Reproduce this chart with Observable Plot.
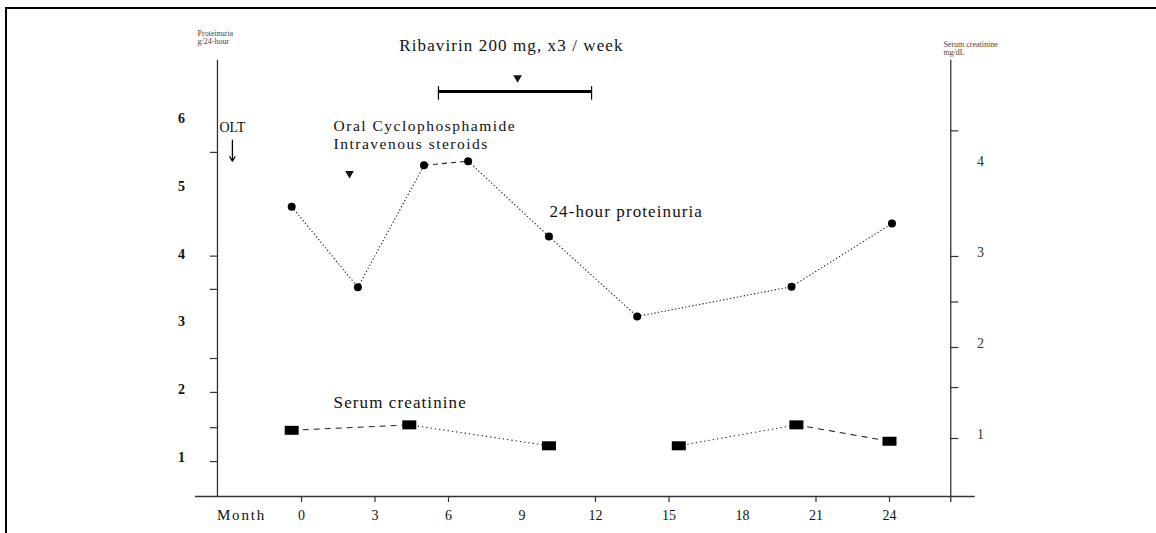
<!DOCTYPE html>
<html><head><meta charset="utf-8">
<script src="https://cdn.jsdelivr.net/npm/d3@7"></script>
<script src="https://cdn.jsdelivr.net/npm/@observablehq/plot@0.6"></script>
<style>
body{margin:0;background:#fff;}
#wrap{position:relative;width:1156px;height:533px;overflow:hidden;background:#fff;}
#wrap svg{position:absolute;left:0;top:0;}
#frame{position:absolute;left:5px;top:7px;width:1200px;height:600px;border-top:2px solid #000;border-left:2px solid #000;pointer-events:none;}
.ann text{letter-spacing:1.1px;}
.ann3 text{letter-spacing:1.5px;}
.ann2 text{letter-spacing:1.8px;}
</style></head><body><div id="wrap"></div>
<script>
// ---- data ----
const protMonths = [-0.4, 2.3, 5.0, 6.8, 10.1, 13.7, 20.0, 24.1];
const protValues = [4.70, 3.51, 5.31, 5.37, 4.26, 3.08, 3.52, 4.45];   // g/24-hour (left axis)
const creatMonths = [-0.4, 4.4, 10.1, 15.4, 20.2, 24.0];
const creatValues = [1.09, 1.15, 0.92, 0.92, 1.15, 0.97];              // mg/dL (right axis)
const monthLabels = [0, 3, 6, 9, 12, 15, 18, 21, 24];
const monthTickMarks = [0, 3, 6, 12, 15, 21, 24];
const leftLabels = [1, 2, 3, 4, 5, 6];
const leftTickMarks = [0.94, 1.44, 1.96, 2.46, 3.48, 3.97, 5.50];
const rightLabels = [1, 2, 3, 4];
const rightTickMarks = [1.0, 1.56, 2.0, 2.5, 3.0, 4.38];

// right axis (creatinine) expressed in the left-axis units
const toLeft = d3.scaleLinear([1, 3], [1.28, 3.965]);

const prot = protMonths.map((m, i) => ({month: m, value: protValues[i]}));
const creat = creatMonths.map((m, i) => ({month: m, value: toLeft(creatValues[i])}));
const protSegs = d3.pairs(prot).map(([a, b], i) => ({x1: a.month, y1: a.value, x2: b.month, y2: b.value, i}));
const creatSegs = d3.pairs(creat).map(([a, b], i) => ({x1: a.month, y1: a.value, x2: b.month, y2: b.value, i}));

const LEFT_X = -3.43, RIGHT_X = 26.5, BASE_Y = 0.425;
const serif = "Liberation Serif, DejaVu Serif, serif";
const ink = "#111";

const wideRect = {
  draw(ctx) { const w = 7, h = 4.5; ctx.moveTo(-w, -h); ctx.lineTo(w, -h); ctx.lineTo(w, h); ctx.lineTo(-w, h); ctx.closePath(); }
};

const txt = (x, y, s, o = {}) => Plot.text([s], {x: () => x, y: () => y, text: d => d, fontFamily: serif, fill: ink, fontSize: 15.5, ...o});
const seg = (data, dash) => Plot.link(data, {x1: "x1", y1: "y1", x2: "x2", y2: "y2", stroke: "#222", strokeWidth: 1.1, strokeDasharray: dash});

const chart = Plot.plot({
  width: 1156, height: 533,
  marginTop: 0, marginRight: 0, marginBottom: 0, marginLeft: 0,
  x: {domain: [0, 24], range: [301, 889], axis: null},
  y: {domain: [1, 6], range: [457, 118], axis: null},
  style: {background: "transparent", fontFamily: serif},
  marks: [
    // axes frame
    Plot.ruleX([LEFT_X], {y1: BASE_Y, y2: 6.86, stroke: "#333", strokeWidth: 1.3}),
    Plot.ruleX([RIGHT_X], {y1: 0.336, y2: 6.86, stroke: "#333", strokeWidth: 1.3}),
    Plot.ruleY([BASE_Y], {x1: -4.33, x2: 27.5, stroke: "#333", strokeWidth: 1.3}),
    Plot.ruleX(monthTickMarks, {y1: BASE_Y, y2: 0.336, stroke: "#333", strokeWidth: 1.2}),
    Plot.text(monthLabels, {x: d => d, y: () => 0.145, text: d => String(d), fontFamily: serif, fontSize: 14, fill: ink}),
    txt(-2.45, 0.145, "Month", {fontSize: 15, className: "ann2"}),
    Plot.ruleY(leftTickMarks, {x1: LEFT_X, x2: -3.72, stroke: "#333", strokeWidth: 1.2}),
    Plot.text(leftLabels, {x: () => -4.9, y: d => d, text: d => String(d), fontFamily: serif, fontSize: 14, fontWeight: "bold", fill: ink}),
    Plot.ruleY(rightTickMarks.map(toLeft), {x1: RIGHT_X, x2: 26.83, stroke: "#333", strokeWidth: 1.2}),
    Plot.text(rightLabels, {x: () => 27.71, y: d => toLeft(d), dy: -4, text: d => String(d), fontFamily: serif, fontSize: 14, fill: "#333"}),
    // axis titles
    txt(-4.24, 7.25, "Proteinuria", {fontSize: 8, textAnchor: "start", fill: "#444"}),
    txt(-4.24, 7.13, "g/24-hour", {fontSize: 8, textAnchor: "start", fill: "#444"}),
    txt(26.2, 7.09, "Serum creatinine", {fontSize: 8, textAnchor: "start", fill: "#444"}),
    txt(26.2, 6.98, "mg/dL", {fontSize: 8, textAnchor: "start", fill: "#444"}),
    // treatment annotations
    txt(8.57, 7.08, "Ribavirin 200 mg, x3 / week", {fontSize: 17, className: "ann"}),
    Plot.dot([0], {x: () => 8.82, y: () => 6.60, symbol: "triangle", rotate: 180, r: 3.2, fill: ink}),
    Plot.ruleY([6.40], {x1: 5.59, x2: 11.84, stroke: "#000", strokeWidth: 3}),
    Plot.ruleX([5.59, 11.84], {y1: 6.47, y2: 6.27, stroke: "#000", strokeWidth: 1.2}),
    txt(-2.82, 5.87, "OLT", {fontSize: 14}),
    Plot.arrow([0], {x1: () => -2.82, x2: () => -2.82, y1: () => 5.68, y2: () => 5.37, stroke: "#000", strokeWidth: 1.3, headLength: 6}),
    Plot.dot([0], {x: () => 1.96, y: () => 5.19, symbol: "triangle", rotate: 180, r: 3.2, fill: ink}),
    txt(1.31, 5.89, "Oral Cyclophosphamide", {textAnchor: "start", fontSize: 15.5, className: "ann3"}),
    txt(1.31, 5.63, "Intravenous steroids", {textAnchor: "start", fontSize: 15.5, className: "ann3"}),
    txt(10.12, 4.63, "24-hour proteinuria", {textAnchor: "start", fontSize: 17, className: "ann"}),
    txt(1.31, 1.81, "Serum creatinine", {textAnchor: "start", fontSize: 17, className: "ann"}),
    // proteinuria series
    seg(protSegs.filter(d => d.i !== 2), "1.3,2.2"),
    seg(protSegs.filter(d => d.i === 2), "5,4"),
    Plot.dot(prot, {x: "month", y: "value", r: 4, fill: "#000"}),
    // creatinine series (no line between months 10 and 15)
    seg(creatSegs.filter(d => d.i === 0 || d.i === 4), "6,5"),
    seg(creatSegs.filter(d => d.i === 1 || d.i === 3), "1.3,3"),
    Plot.dot(creat, {x: "month", y: "value", symbol: wideRect, r: 4, fill: "#000"})
  ]
});
const wrap = document.getElementById("wrap");
wrap.appendChild(chart);
const frame = document.createElement("div");
frame.id = "frame";
wrap.appendChild(frame);
</script></body></html>
